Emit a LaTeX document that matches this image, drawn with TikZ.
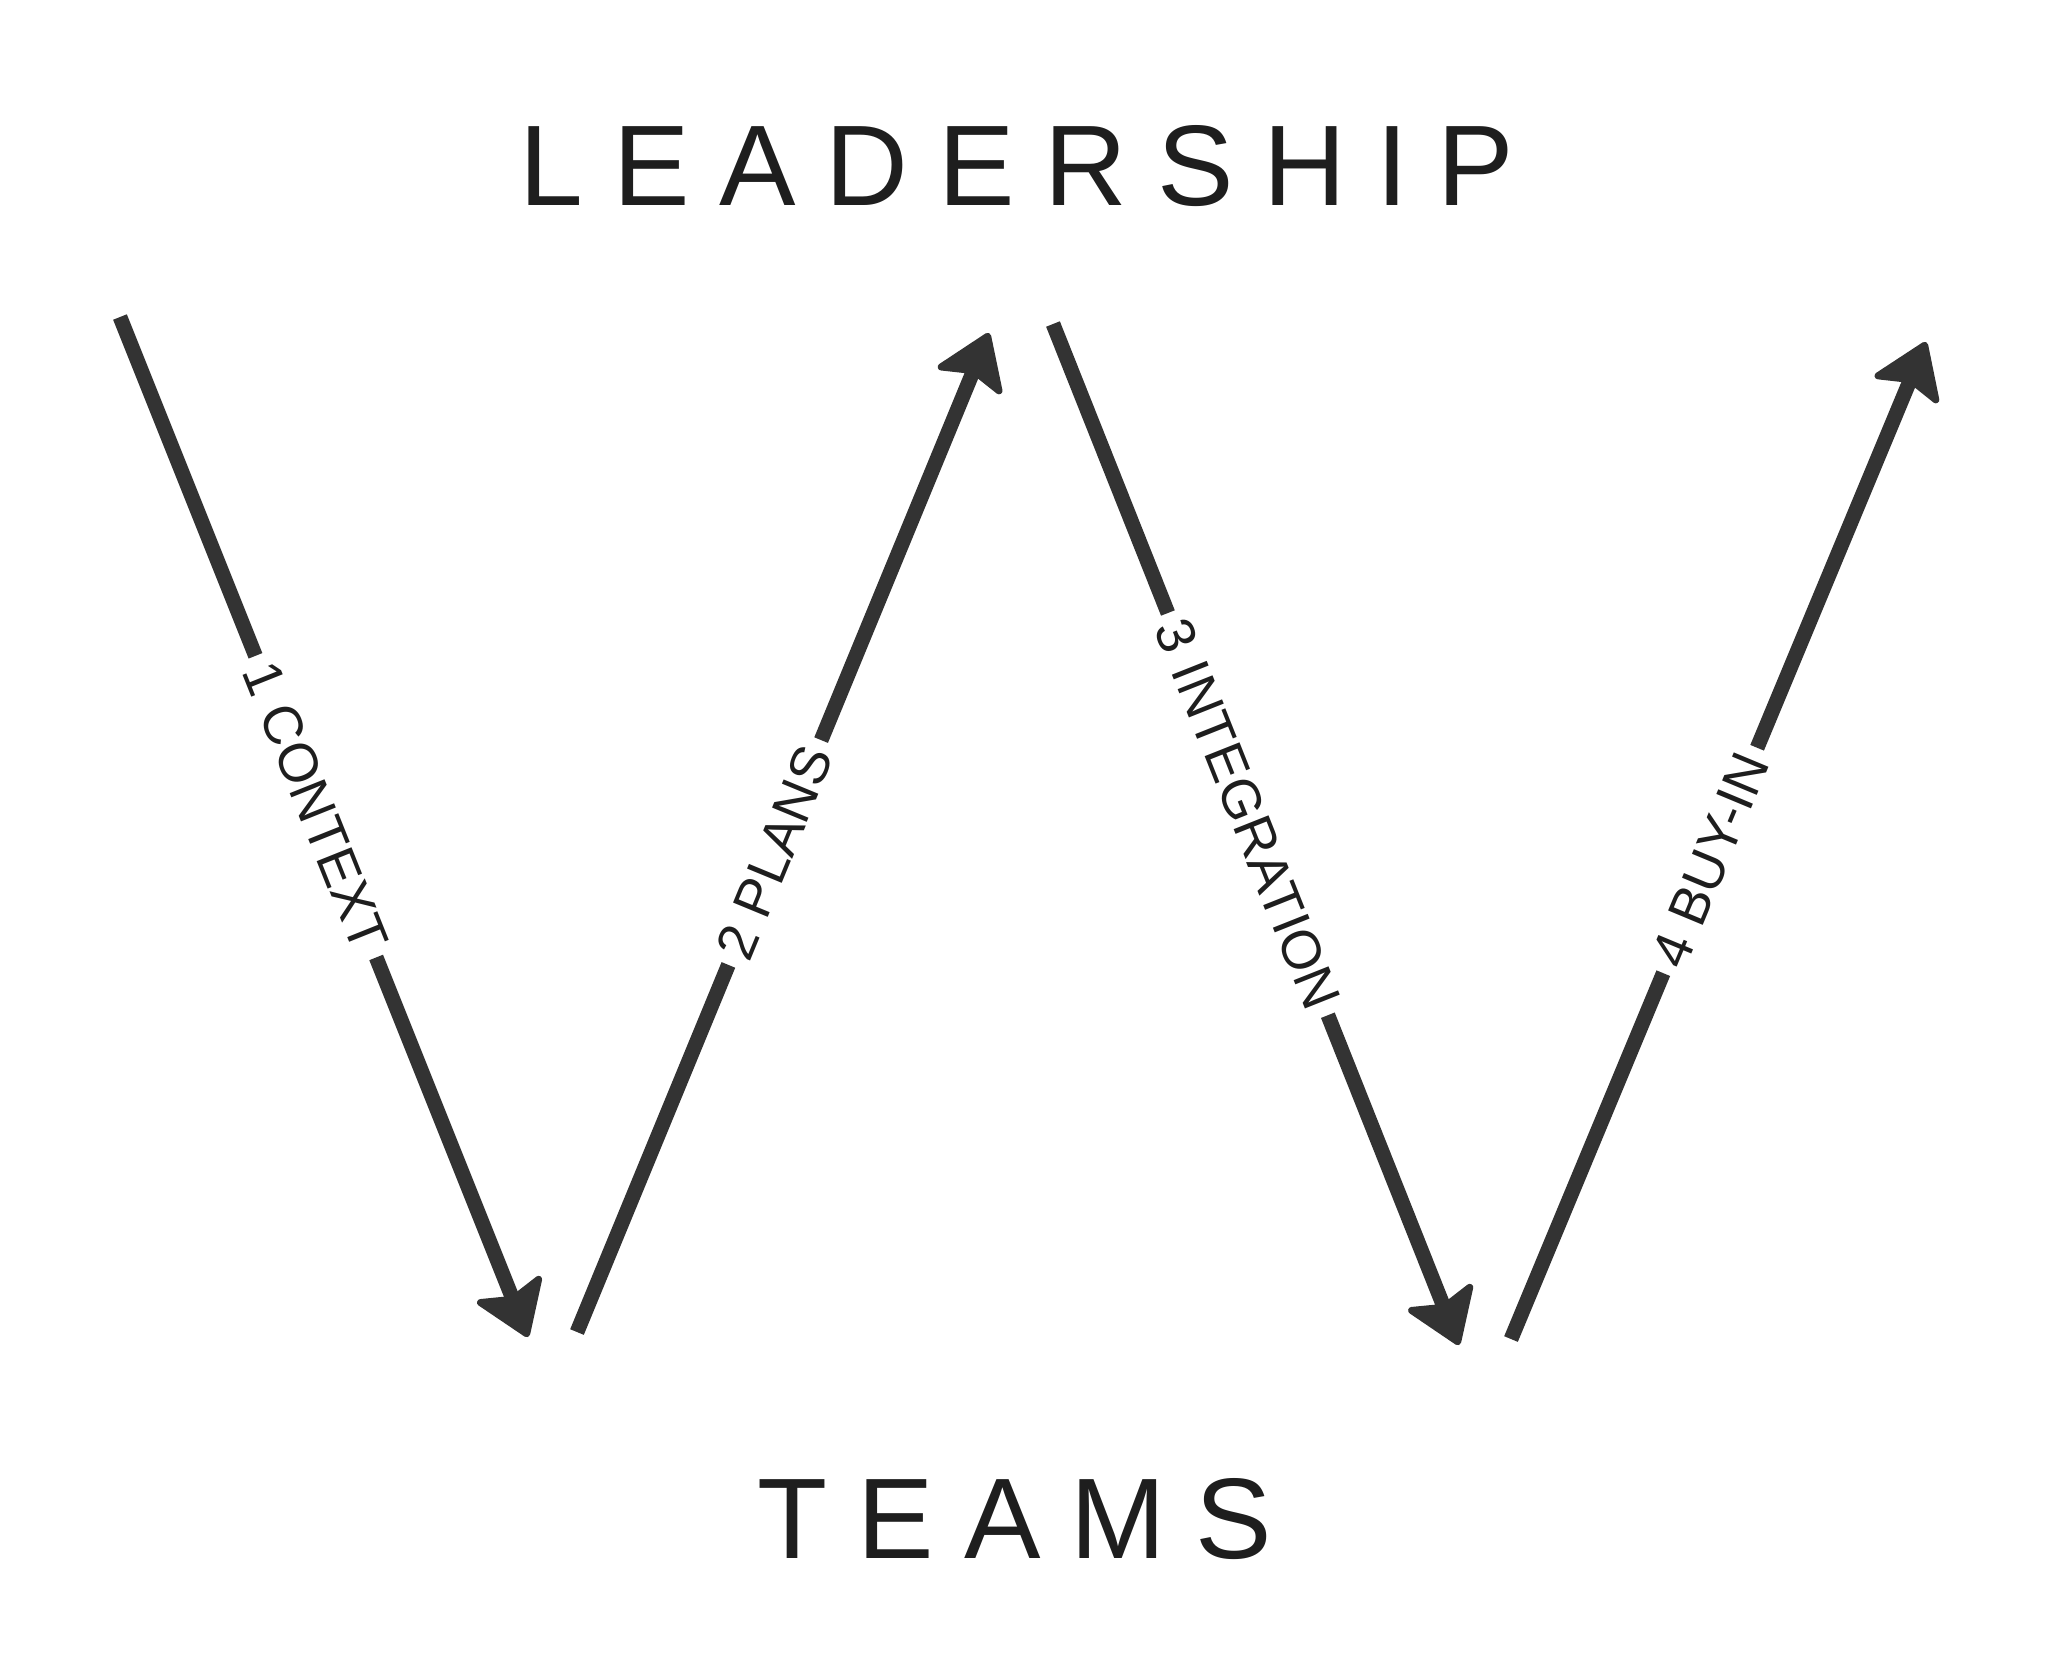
\documentclass[tikz,border=0pt]{standalone}
\usepackage{fontspec}
\setmainfont{Liberation Sans}
\usepackage{xcolor}
\usepackage{tikz}
\usetikzlibrary{arrows.meta}

\definecolor{arrowgray}{HTML}{333333}
\definecolor{titleblack}{HTML}{1E1E1E}

\begin{document}
\begin{tikzpicture}[
			x=0.01cm, y=-0.01cm,
			% Define the styles for the lines, tips and texts
			ln/.style={draw=arrowgray, line width=4.2pt, line cap=butt},
			tip/.style={-{Stealth[length=5.8mm, width=7.8mm, inset=1.1mm, round, line width=2pt]}},
			lbl/.style={sloped, pos=.48, text=titleblack, inner xsep=2.5pt, inner ysep=2pt,
				font=\fontsize{15.5}{19}\selectfont},
			title/.style={anchor=base, inner sep=0pt, text=titleblack,
				font=\fontsize{32.6}{39}\selectfont\addfontfeature{LetterSpace=26}}
			]
			
			\useasboundingbox (0,0) rectangle (2048,1662);
			
			\node[title] (lead) at (1017, 205) {LEADERSHIP};
			\node[title] (teams) at (1015, 1558) {TEAMS};
			
			\coordinate (s1) at (120, 317);
			\coordinate (e1) at (528, 1337);
			\coordinate (s2) at (577, 1332);
			\coordinate (e2) at (989, 333);
			\coordinate (s3) at (1053, 324);
			\coordinate (e3) at (1459, 1345);
			\coordinate (s4) at (1511, 1339);
			\coordinate (e4) at (1926, 342);
			
			\path (s1) -- node[lbl] (l1) {1 CONTEXT} (e1);
			\path (s2) -- node[lbl] (l2) {2 PLANS} (e2);
			\path (s3) -- node[lbl] (l3) {3 INTEGRATION} (e3);
			\path (s4) -- node[lbl] (l4) {4 BUY-IN} (e4);
			
			\draw[ln] (s1) -- (l1);
			\draw[ln, tip] (l1) -- (e1);
			\draw[ln] (s2) -- (l2);
			\draw[ln, tip] (l2) -- (e2);
			\draw[ln] (s3) -- (l3);
			\draw[ln, tip] (l3) -- (e3);
			\draw[ln] (s4) -- (l4);
			\draw[ln, tip] (l4) -- (e4);
			
		\end{tikzpicture}
\end{document}
